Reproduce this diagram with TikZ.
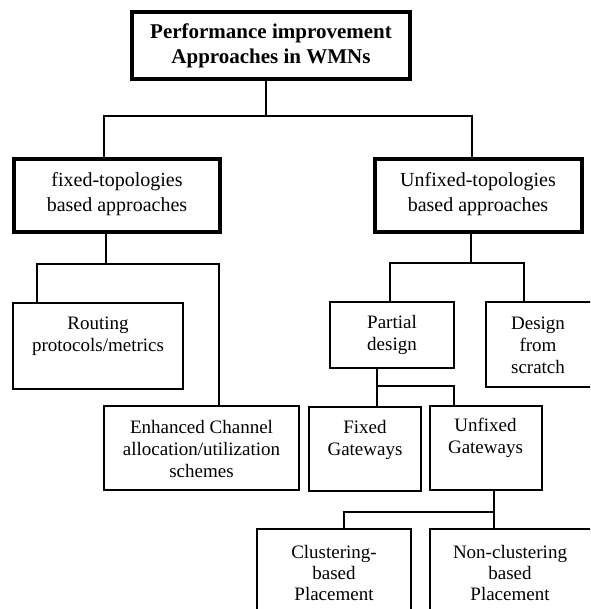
\documentclass[tikz,border=0pt]{standalone}
\usepackage{fontspec}
\setmainfont{Liberation Serif}
\begin{document}
\begin{tikzpicture}[x=0.5pt,y=-0.5pt,
  box/.style={draw, line width=1.15pt, inner sep=0pt, outer sep=0pt},
  mainbox/.style={box, line width=1.75pt},
  conn/.style={line width=1pt},
  lbl/.style={align=center, inner sep=0pt, font=\fontsize{9.5}{11}\selectfont},
  lblbig/.style={align=center, inner sep=0pt, font=\fontsize{10}{12.5}\selectfont},
  lbltitle/.style={align=center, inner sep=0pt, font=\bfseries\fontsize{10.5}{12.2}\selectfont}]
\useasboundingbox (0,0) rectangle (590,609);
\clip (0,0) rectangle (590,609);

% boxes
\node[mainbox, minimum width=139pt, minimum height=33.5pt] (top) at (271,45.5) {};
\node[mainbox, minimum width=103pt, minimum height=36.5pt] (fixed) at (117,195.5) {};
\node[mainbox, minimum width=103.5pt, minimum height=36.5pt] (unfixed) at (478.5,195.5) {};
\node[box, minimum width=85pt, minimum height=43pt] (routing) at (98,346) {};
\node[box, minimum width=97.5pt, minimum height=42pt] (enhanced) at (201.5,448) {};
\node[box, minimum width=62pt, minimum height=33pt] (partial) at (392,335) {};
\node[box, minimum width=53pt, minimum height=42.5pt] (design) at (539,344.5) {};
\node[box, minimum width=56pt, minimum height=42pt] (fixedgw) at (365,449) {};
\node[box, minimum width=56pt, minimum height=42pt] (unfixedgw) at (486,448) {};
\node[box, minimum width=77pt, minimum height=55pt] (cluster) at (334,584) {};
\node[box, minimum width=90pt, minimum height=55pt] (noncluster) at (520,584) {};

% labels
\node[lbltitle] (t-top) at (271,46) {Performance improvement\\Approaches in WMNs};
\node[lblbig] (t-fixed) at (117,194) {fixed-topologies\\based approaches};
\node[lblbig] (t-unfixed) at (478,194) {Unfixed-topologies\\based approaches};
\node[lbl] (t-routing) at (98,336.5) {Routing\\protocols/metrics};
\node[lbl] (t-enhanced) at (201.5,449) {Enhanced Channel\\allocation/utilization\\schemes};
\node[lbl] (t-partial) at (392,335) {Partial\\design};
\node[lbl] (t-design) at (538,345.5) {Design\\from\\scratch};
\node[lbl] (t-fixedgw) at (365,440) {Fixed\\Gateways};
\node[lbl] (t-unfixedgw) at (485.5,438) {Unfixed\\Gateways};
\node[lbl, font=\fontsize{9.5}{10.5}\selectfont] (t-cluster) at (334,573) {Clustering-\\based\\Placement};
\node[lbl, font=\fontsize{9.5}{10.5}\selectfont] (t-noncluster) at (510,573) {Non-clustering\\based\\Placement};

% junction points of the tree
\coordinate (j0) at (266,116);
\coordinate (j0l) at (104,116);
\coordinate (j0r) at (472,116);
\coordinate (j1) at (106,264);
\coordinate (j1l) at (37,264);
\coordinate (j1r) at (219,264);
\coordinate (j2) at (471,263);
\coordinate (j2l) at (390,263);
\coordinate (j2r) at (524,263);
\coordinate (j3) at (377,386);
\coordinate (j3r) at (454,386);
\coordinate (j4) at (494,512);
\coordinate (j4l) at (344,512);

% connectors
\draw[conn] (j0 |- top.south) -- (j0);
\draw[conn] (j0l |- fixed.north) -- (j0l) -- (j0r) -- (j0r |- unfixed.north);

\draw[conn] (j1 |- fixed.south) -- (j1);
\draw[conn] (j1l |- routing.north) -- (j1l) -- (j1r) -- (j1r |- enhanced.north);

\draw[conn] (j2 |- unfixed.south) -- (j2);
\draw[conn] (j2l |- partial.north) -- (j2l) -- (j2r) -- (j2r |- design.north);

\draw[conn] (j3 |- partial.south) -- (j3);
\draw[conn] (j3 |- fixedgw.north) -- (j3) -- (j3r) -- (j3r |- unfixedgw.north);

\draw[conn] (j4 |- unfixedgw.south) -- (j4);
\draw[conn] (j4l |- cluster.north) -- (j4l) -- (j4) -- (j4 |- noncluster.north);
\end{tikzpicture}
\end{document}
